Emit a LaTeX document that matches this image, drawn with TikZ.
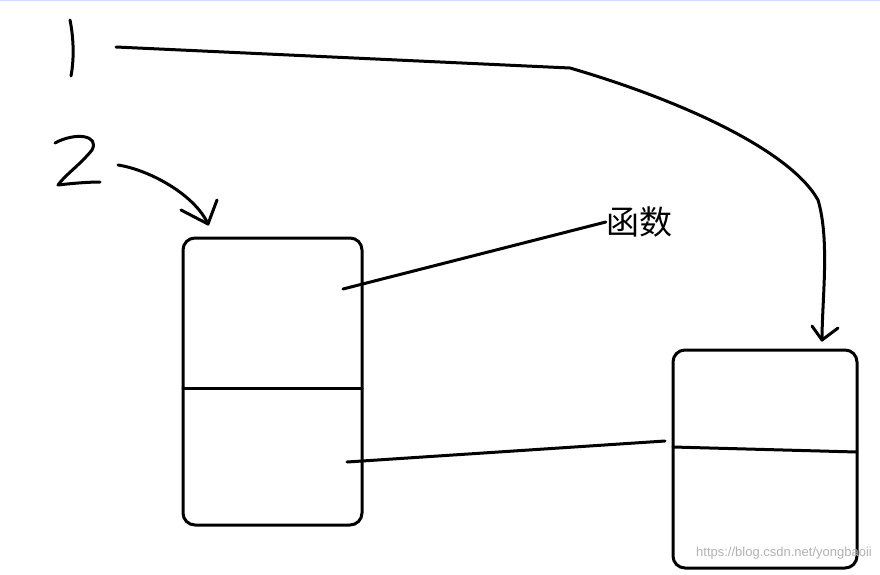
\documentclass[tikz,border=0pt]{standalone}
\usepackage{fontspec}
\newfontfamily\cjk{Noto Sans CJK SC}
\newfontfamily\wm{Liberation Sans}
\begin{document}
\begin{tikzpicture}[x=1pt,y=-1pt,
  ink/.style={line width=3pt,line cap=round,line join=round,black},
  boxx/.style={ink,rounded corners=12pt}]
\useasboundingbox (0,0) rectangle (880,574);
\fill[white] (0,0) rectangle (880,574);
\draw[line width=1.5pt,blue!15] (0,0.5) -- (880,0.5);
% digit 1
\draw[ink] (70,20) .. controls (74,40) and (74,60) .. (71,76);
% digit 2
\draw[ink] (55,143) .. controls (75,132) and (100,135) .. (92,150) .. controls (80,165) and (65,175) .. (58,185) .. controls (75,183) and (90,182) .. (100,182);
% box A
\draw[boxx] (183,238) rectangle (362,525);
\draw[ink] (183,388) -- (362,388);
\coordinate (a1) at (343,289);
\coordinate (a2) at (347,462);
% box B
\draw[boxx] (673,350) rectangle (857,568);
\draw[ink] (673,447) -- (857,452);
\coordinate (b1) at (665,441);
% label
\node[font=\cjk\fontsize{33}{36}\selectfont,inner sep=0pt] (fn) at (639,222) {函数};
\draw[ink] (a1) -- (fn.west);
\draw[ink] (a2) -- (b1);
% arrow from 1
\coordinate (s1) at (116,47);
\coordinate (e1) at (822,340);
\draw[ink] (s1) -- (570,68) .. controls (680,100) and (790,150) .. (818,200) .. controls (830,240) and (822,300) .. (e1);
\draw[ink] (812,326) -- (e1) -- (838,328);
% arrow from 2
\coordinate (s2) at (118,165);
\coordinate (e2) at (208,224);
\draw[ink] (s2) .. controls (150,170) and (195,195) .. (e2);
\draw[ink] (181,210) -- (e2) -- (217,200);
% watermark
\node[font=\wm\fontsize{13}{15}\selectfont,text=black!30,anchor=east,inner sep=0pt] (w) at (872,553) {https://blog.csdn.net/yongbaoii};
\end{tikzpicture}
\end{document}
